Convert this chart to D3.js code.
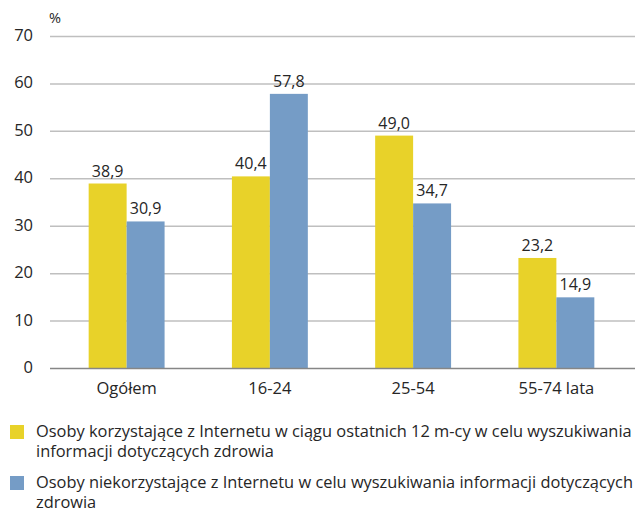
<!DOCTYPE html>
<html>
<head>
<meta charset="utf-8">
<script src="https://cdn.jsdelivr.net/npm/d3@7"></script>
<style>
  body { margin: 0; background: #fff; }
  text { font-family: "Open Sans", sans-serif; fill: #262626; }
</style>
</head>
<body>
<script>
// data
const categories = ["Ogółem", "16-24", "25-54", "55-74 lata"];
const seriesNames = [
  ["Osoby korzystające z Internetu w ciągu ostatnich 12 m-cy w celu wyszukiwania", "informacji dotyczących zdrowia"],
  ["Osoby niekorzystające z Internetu w celu wyszukiwania informacji dotyczących", "zdrowia"]
];
const usersValues = [38.9, 40.4, 49.0, 23.2];
const nonUsersValues = [30.9, 57.8, 34.7, 14.9];
const yTicks = [0, 10, 20, 30, 40, 50, 60, 70];
const colors = ["#E8D229", "#759CC6"];

const W = 635, H = 512;
const svg = d3.select("body").append("svg").attr("width", W).attr("height", H);

const x = d3.scaleBand().domain(categories).range([55, 628]).paddingInner(0.47).paddingOuter(0.235);
const sub = d3.scaleBand().domain([0, 1]).range([0, x.bandwidth()]);
const y = d3.scaleLinear().domain([0, 70]).range([368, 36]);

// gridlines
svg.append("g").selectAll("line")
  .data(yTicks.filter(d => d > 0))
  .enter().append("line")
  .attr("x1", 50).attr("x2", 635)
  .attr("y1", d => y(d) + 0.5).attr("y2", d => y(d) + 0.5)
  .attr("stroke", "#BFBFBF").attr("stroke-width", 1.5);

// y labels
svg.append("g").selectAll("text")
  .data(yTicks)
  .enter().append("text")
  .attr("x", 33).attr("y", d => y(d))
  .attr("dy", "0.3em")
  .attr("text-anchor", "end")
  .style("font-size", "16.5px")
  .text(d => d);

svg.append("text").attr("x", 49).attr("y", 23).style("font-size", "14.5px").text("%");

// bars
const groups = svg.append("g").selectAll("g")
  .data(categories)
  .enter().append("g")
  .attr("transform", d => `translate(${x(d)},0)`);

const rows = (d, i) => [usersValues[i], nonUsersValues[i]];

groups.selectAll("rect")
  .data(rows)
  .enter().append("rect")
  .attr("x", (d, j) => sub(j))
  .attr("width", sub.bandwidth())
  .attr("y", d => y(d))
  .attr("height", d => y(0) - y(d))
  .attr("fill", (d, j) => colors[j]);

groups.selectAll("text")
  .data(rows)
  .enter().append("text")
  .attr("x", (d, j) => sub(j) + sub.bandwidth() / 2)
  .attr("y", d => y(d) - 7)
  .attr("text-anchor", "middle")
  .style("font-size", "16px")
  .text(d => d.toFixed(1).replace(".", ","));

// baseline
svg.append("line")
  .attr("x1", 50).attr("x2", 635)
  .attr("y1", y(0) + 0.5).attr("y2", y(0) + 0.5)
  .attr("stroke", "#868686").attr("stroke-width", 1.5);

// x labels
svg.append("g").selectAll("text")
  .data(categories)
  .enter().append("text")
  .attr("x", d => x(d) + x.bandwidth() / 2)
  .attr("y", 394)
  .attr("text-anchor", "middle")
  .style("font-size", "16.5px")
  .text(d => d);

// legend
const legend = svg.append("g").selectAll("g")
  .data(seriesNames)
  .enter().append("g")
  .attr("transform", (d, i) => `translate(0, ${425 + i * 51})`);

legend.append("rect")
  .attr("x", 10).attr("y", 0)
  .attr("width", 14).attr("height", 14)
  .attr("fill", (d, i) => colors[i]);

legend.append("text")
  .attr("x", 36).attr("y", 12)
  .style("font-size", "16.4px")
  .selectAll("tspan")
  .data(d => d)
  .enter().append("tspan")
  .attr("x", 36)
  .attr("dy", (d, k) => k === 0 ? 0 : 19.5)
  .text(d => d);
</script>
</body>
</html>
